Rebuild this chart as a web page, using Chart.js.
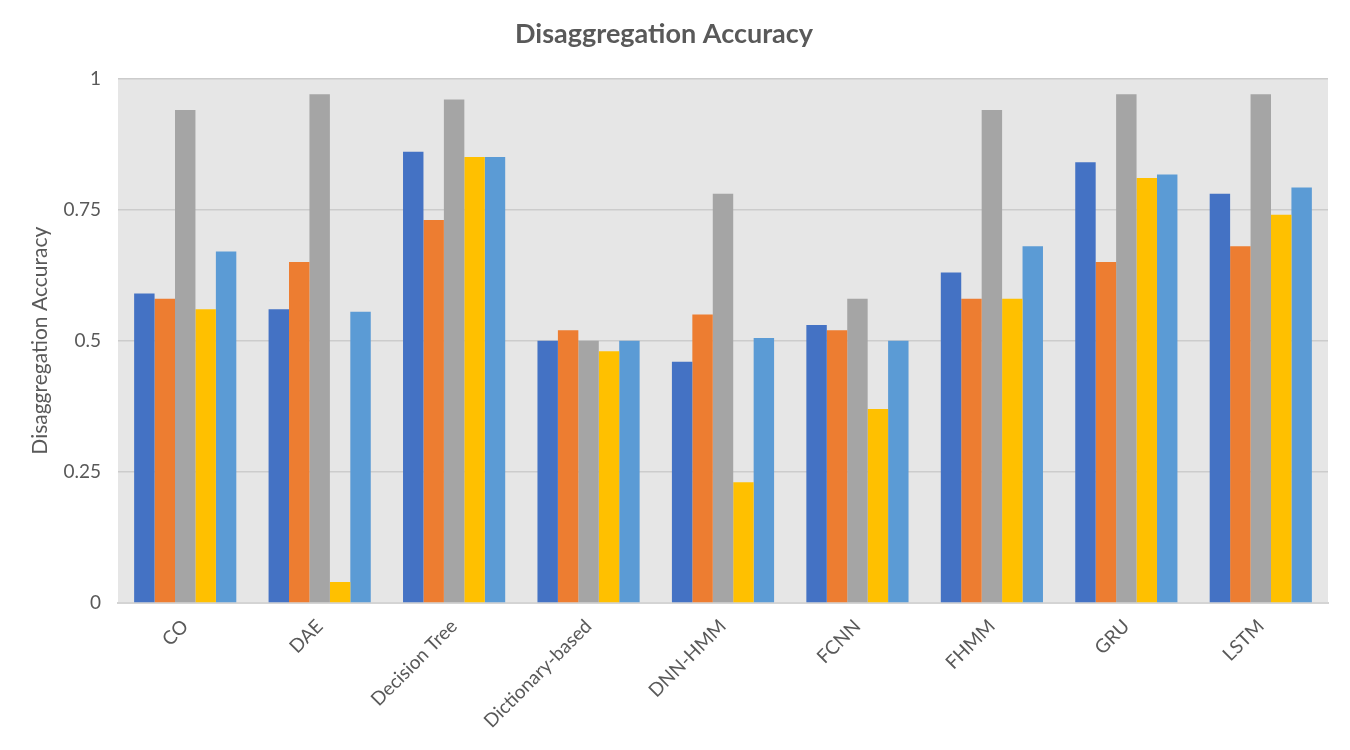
<!DOCTYPE html>
<html>
<head>
<meta charset="utf-8">
<script src="https://cdn.jsdelivr.net/npm/chart.js@4"></script>
<style>
  html, body { margin: 0; padding: 0; background: #fff; }
  #wrap { width: 1350px; height: 750px; }
</style>
</head>
<body>
<div id="wrap"><canvas id="chart"></canvas></div>
<script>
// categories and values
const methods = ['CO', 'DAE', 'Decision Tree', 'Dictionary-based', 'DNN-HMM', 'FCNN', 'FHMM', 'GRU', 'LSTM'];
const series1 = [0.59, 0.56, 0.86, 0.50, 0.46, 0.53, 0.63, 0.84, 0.78];
const series2 = [0.58, 0.65, 0.73, 0.52, 0.55, 0.52, 0.58, 0.65, 0.68];
const series3 = [0.94, 0.97, 0.96, 0.50, 0.78, 0.58, 0.94, 0.97, 0.97];
const series4 = [0.56, 0.04, 0.85, 0.48, 0.23, 0.37, 0.58, 0.81, 0.74];
const series5 = [0.67, 0.555, 0.85, 0.50, 0.505, 0.50, 0.68, 0.817, 0.792];
const yTicks = ['0', '0.25', '0.5', '0.75', '1'];

const colors = ['#4472C4', '#ED7D31', '#A5A5A5', '#FFC000', '#5B9BD5'];
const textColor = '#595959';
const fontFamily = 'Lato, "Open Sans", sans-serif';

// grey plot background
const plotBg = {
  id: 'plotBg',
  beforeDraw(chart) {
    const { ctx, chartArea: a } = chart;
    ctx.save();
    ctx.fillStyle = '#e6e6e6';
    ctx.fillRect(a.left, a.top, a.right - a.left, a.bottom - a.top);
    ctx.restore();
  }
};

const allSeries = [series1, series2, series3, series4, series5];

new Chart(document.getElementById('chart'), {
  type: 'bar',
  data: {
    labels: methods,
    datasets: allSeries.map((s, i) => ({
      label: 'Series ' + (i + 1),
      data: s,
      backgroundColor: colors[i],
      borderWidth: 0,
      barPercentage: 1.0,
      categoryPercentage: 0.76
    }))
  },
  options: {
    responsive: true,
    maintainAspectRatio: false,
    animation: false,
    layout: { padding: { left: 0, right: 22, top: 0, bottom: 0 } },
    plugins: {
      legend: { display: false },
      tooltip: { enabled: false },
      title: {
        display: true,
        text: 'Disaggregation Accuracy',
        color: textColor,
        font: { family: fontFamily, size: 27, weight: 'bold' },
        padding: { top: 18, bottom: 28 }
      }
    },
    scales: {
      x: {
        grid: { display: false },
        border: { display: true, color: '#d4d4d4', width: 2 },
        ticks: {
          color: textColor,
          font: { family: fontFamily, size: 19 },
          maxRotation: 45,
          minRotation: 45,
          padding: 4
        },
        afterFit(scale) { scale.height = 147; }
      },
      y: {
        min: 0,
        max: 1,
        border: { display: false },
        grid: { color: '#cccccc', lineWidth: 1.5, drawTicks: false },
        ticks: {
          stepSize: 0.25,
          color: textColor,
          font: { family: fontFamily, size: 19 },
          padding: 17,
          callback: (v) => yTicks[Math.round(v / 0.25)]
        },
        title: {
          display: true,
          text: 'Disaggregation Accuracy',
          color: textColor,
          font: { family: fontFamily, size: 21 },
          padding: { top: 28, bottom: 4 }
        },
        afterFit(scale) { scale.width = 118; }
      }
    }
  },
  plugins: [plotBg]
});
</script>
</body>
</html>
